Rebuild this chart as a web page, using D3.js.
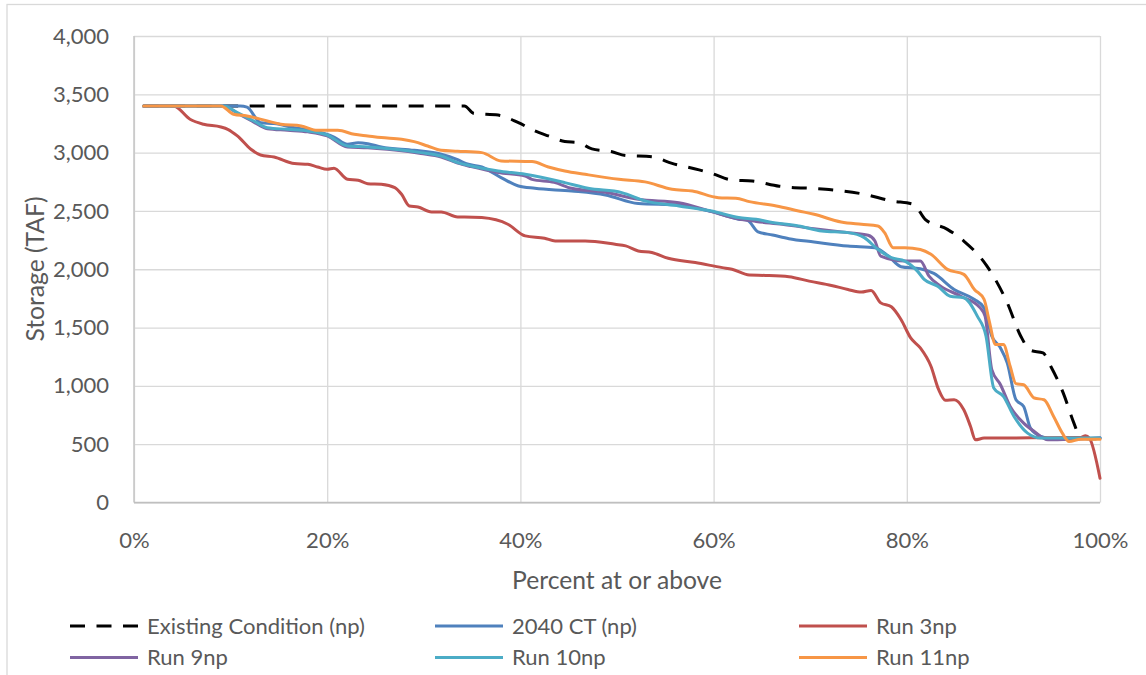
<!DOCTYPE html>
<html><head><meta charset="utf-8">
<script src="https://cdn.jsdelivr.net/npm/d3@7"></script>
<style>
body{margin:0;background:#fff;}
svg{display:block;font-family:Lato, "Open Sans", sans-serif;}
</style>
</head><body>
<svg id="chart" width="1146" height="675"></svg>
<script>
// ---- data (percent at or above, storage TAF) ----
const percentTicks = [0, 20, 40, 60, 80, 100];
const storageTicks = [0, 500, 1000, 1500, 2000, 2500, 3000, 3500, 4000];
const seriesNames = ["Existing Condition (np)", "2040 CT (np)", "Run 3np", "Run 9np", "Run 10np", "Run 11np"];

const existingCondition = [[1,3400],[34.2,3400],[35.2,3335],[37.7,3322],[39.8,3257],[41.5,3186],[42.9,3143],[44.6,3095],[46.0,3086],[47.4,3032],[49.4,3009],[50.9,2975],[53.6,2965],[55.7,2908],[58.5,2852],[59.8,2822],[61.9,2765],[64.0,2757],[66.8,2712],[71.6,2686],[75.6,2643],[78.4,2586],[80.7,2557],[81.9,2428],[84.2,2342],[85.9,2242],[88.3,2027],[90.4,1712],[91.8,1426],[92.8,1305],[94.1,1282],[94.9,1168],[96.2,938],[97.3,681],[98.0,552],[100,545]];

const ct2040 = [[1,3400],[11.0,3400],[11.7,3390],[13.1,3257],[14.5,3249],[16.6,3214],[18.7,3186],[20.7,3134],[22.1,3071],[23.2,3085],[24.2,3077],[25.6,3049],[29.0,3020],[31.8,2986],[33.5,2940],[34.4,2905],[36.0,2877],[38.0,2786],[39.8,2714],[41.5,2694],[45.3,2671],[48.8,2637],[52.2,2563],[56.4,2551],[59.8,2494],[62.6,2429],[63.5,2420],[64.6,2320],[66.1,2294],[67.8,2262],[70.4,2234],[73.9,2199],[76.7,2185],[78.1,2113],[79.4,2022],[81.4,2004],[82.8,1964],[84.9,1827],[87.0,1741],[88.0,1669],[88.8,1426],[89.7,1325],[90.4,1196],[91.3,881],[92.1,824],[92.8,638],[93.9,566],[95.2,543],[100,552]];

const run3 = [[1,3400],[4.1,3400],[5.8,3286],[7.2,3243],[9.0,3220],[9.7,3200],[10.7,3143],[12.1,3029],[13.1,2980],[14.5,2963],[16.6,2906],[18.0,2900],[19.0,2877],[20.0,2857],[20.7,2866],[22.1,2771],[23.2,2763],[24.2,2734],[25.6,2729],[27.0,2700],[27.7,2643],[28.5,2543],[29.4,2534],[30.8,2491],[31.8,2491],[33.5,2449],[34.2,2449],[36.0,2443],[38.7,2386],[40.5,2286],[42.5,2266],[43.6,2243],[46.7,2243],[49.8,2214],[50.9,2200],[52.2,2157],[53.6,2143],[55.3,2094],[58.1,2057],[60.9,2014],[61.9,2000],[63.7,1950],[65.4,1947],[67.8,1936],[69.9,1898],[72.2,1861],[73.9,1827],[75.3,1804],[76.3,1818],[77.3,1712],[78.4,1678],[79.4,1569],[80.4,1411],[81.4,1325],[82.5,1168],[83.3,967],[84.0,876],[84.9,881],[85.9,795],[86.6,652],[87.1,537],[88.0,552],[98.0,557],[98.5,572],[98.9,552],[100,208]];

const run9 = [[1,3400],[9.3,3400],[10.7,3338],[12.4,3262],[13.8,3205],[15.9,3192],[18.0,3178],[20.0,3143],[22.1,3048],[24.2,3042],[27.0,3022],[29.7,2993],[31.8,2963],[33.5,2910],[34.9,2880],[37.7,2830],[40.5,2800],[41.2,2771],[43.5,2745],[45.3,2694],[48.8,2660],[52.2,2600],[56.4,2571],[59.8,2494],[62.6,2430],[64.4,2410],[67.1,2385],[70.4,2348],[73.9,2314],[76.0,2291],[76.7,2242],[77.3,2113],[79.8,2070],[81.4,2070],[82.3,1941],[83.5,1855],[85.6,1769],[87.6,1669],[88.1,1598],[88.8,1139],[89.7,1010],[90.7,824],[92.1,681],[93.2,609],[94.6,537],[100,552]];

const run10 = [[1,3400],[9.3,3400],[10.7,3343],[12.4,3271],[13.8,3214],[15.9,3200],[18.0,3186],[20.0,3151],[22.1,3057],[24.2,3049],[27.0,3029],[29.7,3000],[31.8,2971],[33.5,2914],[34.9,2886],[37.7,2843],[40.5,2814],[44.6,2743],[47.0,2694],[50.5,2657],[52.9,2586],[56.4,2543],[59.8,2500],[62.6,2443],[64.4,2429],[65.8,2405],[68.8,2371],[71.2,2328],[73.9,2314],[75.6,2271],[77.0,2171],[78.4,2099],[79.8,2070],[81.1,1984],[81.8,1913],[83.2,1855],[84.5,1769],[85.9,1755],[87.3,1598],[88.2,1426],[89.0,982],[90.0,910],[91.1,738],[92.5,595],[93.9,552],[100,552]];

const run11 = [[1,3400],[9.0,3400],[10.3,3329],[11.7,3314],[13.8,3271],[15.2,3243],[17.3,3229],[19.0,3191],[21.1,3191],[22.8,3157],[24.2,3143],[25.6,3129],[27.7,3114],[29.0,3094],[30.4,3057],[31.8,3020],[33.5,3012],[36.0,3000],[38.0,2929],[41.2,2923],[42.9,2877],[44.6,2843],[46.7,2814],[50.2,2771],[52.9,2749],[55.7,2686],[57.8,2671],[60.5,2614],[62.3,2609],[63.7,2580],[66.5,2543],[68.8,2500],[70.4,2471],[73.2,2405],[75.3,2385],[77.0,2371],[77.7,2314],[78.6,2185],[79.8,2185],[81.4,2170],[82.5,2128],[84.2,1999],[85.9,1956],[87.0,1827],[88.0,1741],[88.5,1569],[89.2,1354],[90.0,1354],[90.7,1168],[91.3,1019],[92.1,1010],[93.2,896],[94.2,881],[95.2,738],[96.1,595],[96.8,523],[98.0,543],[100,543]];

const seriesData = [existingCondition, ct2040, run3, run9, run10, run11];
const seriesColors = ["#000000", "#4F81BD", "#C0504D", "#8064A2", "#4BACC6", "#F79646"];
const seriesDash = ["15,11.5", null, null, null, null, null];

// ---- drawing ----
const svg = d3.select("#chart");
const textColor = "#595959";

function fitSize(text, target, base) {
  const t = svg.append("text").style("font-size", base + "px").text(text);
  const w = t.node().getComputedTextLength();
  t.remove();
  return base * target / w;
}
const tickSize = fitSize("Existing Condition (np)", 218, 20);
const titleSize = fitSize("Percent at or above", 210, 20);

// outer chart border
svg.append("rect").attr("x", 7).attr("y", 4.5).attr("width", 1160).attr("height", 700)
  .attr("fill", "none").attr("stroke", "#d9d9d9").attr("stroke-width", 1.3);

const x = d3.scaleLinear().domain([0, 100]).range([134, 1100]);
const y = d3.scaleLinear().domain([0, 4000]).range([502.5, 36]);

// y axis with gridlines
const yAxis = svg.append("g").attr("transform", `translate(${x(0)},0)`)
  .call(d3.axisLeft(y).tickValues(storageTicks).tickFormat(d3.format(","))
    .tickSize(-(x(100) - x(0))).tickPadding(25));
yAxis.select(".domain").remove();
yAxis.selectAll(".tick line").attr("stroke", "#d9d9d9").attr("stroke-width", 1.3);
yAxis.selectAll(".tick text").attr("fill", textColor).style("font-size", tickSize + "px")
  .style("font-family", "Lato, sans-serif");

// x axis with gridlines
const xAxis = svg.append("g").attr("transform", `translate(0,${y(0)})`)
  .call(d3.axisBottom(x).tickValues(percentTicks).tickFormat(d => d + "%")
    .tickSize(-(y(0) - y(4000))));
xAxis.select(".domain").remove();
xAxis.selectAll(".tick line").attr("stroke", "#d9d9d9").attr("stroke-width", 1.3);
xAxis.selectAll(".tick text").attr("fill", textColor).style("font-size", tickSize + "px")
  .style("font-family", "Lato, sans-serif").attr("y", 37.5).attr("dy", "0.35em");

// axis lines
svg.append("line").attr("x1", x(0)).attr("x2", x(0)).attr("y1", y(4000)).attr("y2", y(0))
  .attr("stroke", "#c6c6c6").attr("stroke-width", 1.5);
svg.append("line").attr("x1", x(0)).attr("x2", x(100)).attr("y1", y(0)).attr("y2", y(0))
  .attr("stroke", "#bfbfbf").attr("stroke-width", 1.6);

// series lines
const line = d3.line().x(d => x(d[0])).y(d => y(d[1])).curve(d3.curveMonotoneX);
seriesData.forEach((data, i) => {
  svg.append("path").datum(data).attr("d", line)
    .attr("fill", "none").attr("stroke", seriesColors[i]).attr("stroke-width", 3)
    .attr("stroke-linejoin", "round")
    .attr("stroke-linecap", seriesDash[i] ? "butt" : "round")
    .attr("stroke-dasharray", seriesDash[i]);
});

// axis titles
svg.append("text").attr("x", 617).attr("y", 580).attr("dy", "0.35em")
  .attr("text-anchor", "middle").attr("fill", textColor).style("font-size", titleSize + "px")
  .text("Percent at or above");
svg.append("text").attr("transform", "translate(35,269) rotate(-90)").attr("dy", "0.35em")
  .attr("text-anchor", "middle").attr("fill", textColor).style("font-size", titleSize + "px")
  .text("Storage (TAF)");

// legend
const legendCols = [70, 435, 799];
const legendRows = [626, 657.5];
seriesNames.forEach((name, i) => {
  const lx = legendCols[i % 3], ly = legendRows[Math.floor(i / 3)];
  svg.append("line").attr("x1", lx).attr("x2", lx + 68).attr("y1", ly).attr("y2", ly)
    .attr("stroke", seriesColors[i]).attr("stroke-width", 3.2)
    .attr("stroke-dasharray", seriesDash[i]).attr("stroke-linecap", "butt");
  svg.append("text").attr("x", lx + 77).attr("y", ly).attr("dy", "0.35em")
    .attr("fill", textColor).style("font-size", tickSize + "px").text(name);
});
</script>
</body></html>
